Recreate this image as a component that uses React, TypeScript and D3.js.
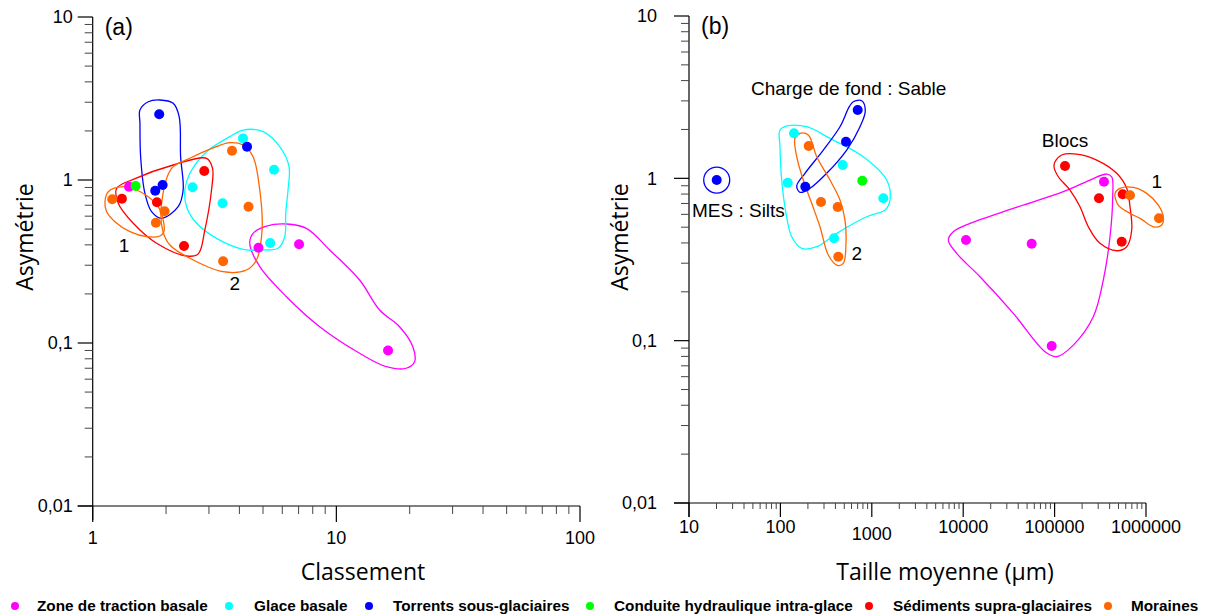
import React from "react";
import * as d3 from "d3";

// ---------- categories / colours ----------
const categories = [
  "Zone de traction basale",
  "Glace basale",
  "Torrents sous-glaciaires",
  "Conduite hydraulique intra-glace",
  "Sédiments supra-glaciaires",
  "Moraines",
];
const colors = ["#ff00ff", "#00ffff", "#0000ff", "#00ff00", "#ff0000", "#ff6600"];

// ---------- panel (a): Classement vs Asymétrie ----------
const aZone = [[1.41, 0.91], [4.79, 0.384], [7.03, 0.403], [16.3, 0.09]];
const aGlace = [[4.14, 1.8], [5.55, 1.157], [2.57, 0.902], [3.41, 0.72], [5.35, 0.411]];
const aTorrents = [[1.875, 2.53], [1.936, 0.932], [1.806, 0.86], [4.3, 1.6]];
const aConduite = [[1.5, 0.919]];
const aSediments = [[2.87, 1.135], [1.318, 0.768], [1.835, 0.73], [2.37, 0.394]];
const aMoraines = [[3.73, 1.51], [1.203, 0.761], [4.36, 0.686], [1.973, 0.643], [1.817, 0.547], [3.43, 0.317]];

// ---------- panel (b): Taille moyenne vs Asymétrie ----------
const bZone = [[347000, 0.953], [10730, 0.4168], [56150, 0.3954], [92970, 0.0926]];
const bGlace = [[140.9, 1.894], [480, 1.208], [120.2, 0.9395], [1336, 0.753], [386, 0.427]];
const bTorrents = [[20.1, 0.976], [701, 2.635], [522, 1.681], [187.3, 0.888]];
const bConduite = [[787, 0.967]];
const bSediments = [[130000, 1.191], [556000, 0.797], [306000, 0.753], [542000, 0.4068]];
const bMoraines = [[204, 1.581], [278, 0.7145], [423.6, 0.6654], [430, 0.3288], [668000, 0.786], [1387000, 0.567]];

// ---------- group outlines (data units) ----------
const hullATorrents = [[1.563, 2.688], [1.69, 3.022], [1.887, 3.096], [2.14, 2.954], [2.264, 2.445], [2.295, 1.39], [2.351, 0.868], [2.243, 0.686], [1.918, 0.582], [1.745, 0.639], [1.638, 0.829], [1.573, 1.39], [1.563, 2.228]];
const hullASediments = [[1.254, 0.889], [1.467, 1.01], [2.14, 1.236], [2.933, 1.359], [3.103, 1.18], [3.074, 0.868], [2.885, 0.493], [2.709, 0.3516], [2.428, 0.3418], [1.829, 0.409], [1.467, 0.5425], [1.273, 0.72]];
const hullAMoraines1 = [[1.123, 0.736], [1.159, 0.848], [1.335, 0.91], [1.515, 0.868], [1.69, 0.79], [1.857, 0.686], [1.947, 0.568], [1.96, 0.4817], [1.887, 0.4533], [1.665, 0.4489], [1.422, 0.4817], [1.234, 0.555], [1.141, 0.639]];
const hullAMoraines2 = [[2.108, 1.18], [2.505, 1.359], [3.222, 1.6], [3.653, 1.694], [4.142, 1.64], [4.552, 1.39], [4.85, 0.868], [4.956, 0.493], [4.7, 0.323], [4.277, 0.2805], [3.429, 0.2738], [2.505, 0.331], [2.074, 0.399], [1.936, 0.493], [1.918, 0.72]];
const hullAGlace = [[2.389, 0.868], [2.505, 1.099], [2.933, 1.491], [3.653, 1.844], [4.142, 2.026], [5.003, 1.979], [5.856, 1.6], [6.394, 1.207], [6.334, 0.868], [6.198, 0.625], [6.14, 0.4489], [5.763, 0.381], [5.003, 0.372], [4.142, 0.3757], [3.222, 0.4388], [2.669, 0.5425], [2.428, 0.686]];
const hullAZone = [[4.412, 0.409], [4.552, 0.471], [5.166, 0.522], [6.24, 0.537], [7.535, 0.5054], [9.387, 0.372], [12.46, 0.2435], [15.05, 0.1594], [18.17, 0.1259], [20.6, 0.0949], [20.94, 0.0768], [19.36, 0.07], [16.03, 0.0716], [12.46, 0.0865], [8.543, 0.1259], [6.24, 0.1923], [4.85, 0.2938]];

const hullBTorrents = [[627.6, 2.965], [775.4, 3.007], [849, 2.609], [743, 2.079], [531, 1.494], [321, 1.074], [210.8, 0.868], [163.9, 0.82], [150.8, 0.897], [185.8, 1.074], [294.7, 1.494], [448.8, 2.079], [567.3, 2.762]];
const hullBGlace = [[99, 1.984], [122, 2.109], [194, 2.079], [349, 1.764], [807, 1.359], [1455, 0.976], [1582, 0.735], [1395, 0.638], [879.6, 0.58], [413, 0.4584], [249.6, 0.379], [171, 0.3705], [133, 0.4367], [115.2, 0.6086], [103.3, 0.976], [99, 1.566]];
const hullBMoraines2 = [[144.4, 1.764], [163.9, 1.894], [202, 1.849], [249.6, 1.359], [349, 0.976], [448.8, 0.735], [509, 0.5534], [522, 0.3977], [487.7, 0.2995], [419.3, 0.2911], [334.2, 0.3369], [271.2, 0.503], [220, 0.7015], [178, 0.976], [150.8, 1.359]];
const hullBZone = [[6871, 0.4168], [7794, 0.4688], [11870, 0.528], [35330, 0.6532], [124500, 0.827], [244000, 0.976], [371500, 1.063], [421500, 1.023], [432200, 0.77], [403800, 0.4367], [341000, 0.2362], [265100, 0.1404], [160200, 0.0939], [105400, 0.0796], [78520, 0.0854], [35330, 0.1473], [15270, 0.2475], [8490, 0.345]];
const hullBSediments = [[101000, 1.266], [119600, 1.392], [174500, 1.411], [288800, 1.296], [478000, 1.074], [615000, 0.868], [668300, 0.668], [697800, 0.4803], [615000, 0.379], [478000, 0.358], [313800, 0.3977], [233800, 0.503], [189700, 0.668], [147400, 0.847], [109800, 1.023], [98500, 1.179]];
const hullBMoraines1 = [[458000, 0.808], [519400, 0.868], [726100, 0.88], [1018000, 0.808], [1363000, 0.6845], [1546000, 0.58], [1485000, 0.5157], [1202000, 0.503], [860000, 0.567], [668300, 0.6086], [497700, 0.6845]];

// ---------- axis tick labels ----------
const yTickValues = [0.01, 0.1, 1, 10];
const yTickLabels = ["0,01", "0,1", "1", "10"];
const aXTickValues = [1, 10, 100];
const aXTickLabels = ["1", "10", "100"];
const bXTickValues = [10, 100, 1000, 10000, 100000, 1000000];
const bXTickLabels = ["10", "100", "1000", "10000", "100000", "1000000"];

// ---------- annotations (data anchors) ----------
const aNotes = [
  { text: "1", x: 1.344, y: 0.399 },
  { text: "2", x: 3.83, y: 0.2335 },
];
const bNotes = [
  { text: "2", x: 683.8, y: 0.345, anchor: "middle" },
  { text: "1", x: 1309000, y: 0.953, anchor: "middle" },
  { text: "Blocs", x: 130000, y: 1.722, anchor: "middle" },
  { text: "Charge de fond : Sable", x: 47.6, y: 3.601, anchor: "start" },
  { text: "MES : Silts", x: 10.78, y: 0.638, anchor: "start" },
];

const legendDotX = [15, 229, 369, 590, 869, 1108];
const legendTextX = [37, 254, 393, 614, 893, 1131];

const SANS = "'Liberation Sans', Arial, sans-serif";
const OPEN = "'Open Sans', sans-serif";

type Pt = number[];

function Panel(props: any) {
  const { x, y, series, hulls, xTicks, xLabels, xLabelDy, tag, xTitle, xTitleX, yTitleX, notes, minorLen, majorLen, labelGap, extra } = props;
  const [x0, x1] = x.range();
  const [yb, yt] = y.range();
  const line = d3
    .line<Pt>()
    .x((d) => x(d[0]))
    .y((d) => y(d[1]))
    .curve(d3.curveCatmullRomClosed.alpha(0.5));
  const xMinor = x.ticks().filter((t: number) => !xTicks.includes(+t.toPrecision(6)));
  const yMinor = y.ticks().filter((t: number) => !yTickValues.includes(+t.toPrecision(6)));
  return (
    <g>
      {/* axes */}
      <line x1={x0} x2={x0} y1={yt} y2={yb + 14} stroke="#000" strokeWidth={1.2} />
      <line x1={x0 - 15} x2={x1} y1={yb} y2={yb} stroke="#000" strokeWidth={1.2} />
      {yTickValues.map((v, i) => (
        <g key={"yt" + i}>
          <line x1={x0 - 15} x2={x0} y1={y(v)} y2={y(v)} stroke="#000" strokeWidth={1.2} />
          <text x={x0 - labelGap} y={y(v)} dy="0.35em" textAnchor="end" fontFamily={SANS} fontSize={18} fill="#000">
            {yTickLabels[i]}
          </text>
        </g>
      ))}
      {yMinor.map((v: number, i: number) => (
        <line key={"ym" + i} x1={x0 - 8} x2={x0} y1={y(v)} y2={y(v)} stroke="#444" strokeWidth={1} />
      ))}
      {xTicks.map((v: number, i: number) => (
        <g key={"xt" + i}>
          <line x1={x(v)} x2={x(v)} y1={yb} y2={yb + majorLen} stroke="#000" strokeWidth={1.2} />
          <text x={x(v)} y={yb + xLabelDy[i]} textAnchor="middle" fontFamily={SANS} fontSize={18} fill="#000">
            {xLabels[i]}
          </text>
        </g>
      ))}
      {xMinor.map((v: number, i: number) => (
        <line key={"xm" + i} x1={x(v)} x2={x(v)} y1={yb} y2={yb + minorLen} stroke="#444" strokeWidth={1} />
      ))}
      {/* titles */}
      <text x={xTitleX} y={580} textAnchor="middle" fontFamily={OPEN} fontSize={23} fill="#000">
        {xTitle}
      </text>
      <text transform={`translate(${yTitleX},237) rotate(-90)`} textAnchor="middle" fontFamily={OPEN} fontSize={23} fill="#000">
        Asymétrie
      </text>
      <text x={x0 + 12} y={yt + 18} fontFamily={SANS} fontSize={23} fill="#000">
        {tag}
      </text>
      {/* group outlines */}
      {hulls.map((h: any, i: number) => (
        <path key={"h" + i} d={line(h.pts) || ""} fill="none" stroke={colors[h.c]} strokeWidth={1.3} />
      ))}
      {extra}
      {/* points */}
      {series.map((s: Pt[], ci: number) =>
        s.map((d, j) => <circle key={ci + "-" + j} cx={x(d[0])} cy={y(d[1])} r={5} fill={colors[ci]} />)
      )}
      {notes.map((n: any, i: number) => (
        <text key={"n" + i} x={x(n.x)} y={y(n.y)} dy="0.35em" textAnchor={n.anchor || "middle"} fontFamily={SANS} fontSize={19} fill="#000">
          {n.text}
        </text>
      ))}
    </g>
  );
}

export default function App() {
  const xA = d3.scaleLog().domain([1, 100]).range([92.7, 580]);
  const yA = d3.scaleLog().domain([0.01, 10]).range([506, 17]);
  const xB = d3.scaleLog().domain([10, 1e6]).range([689, 1146]);
  const yB = d3.scaleLog().domain([0.01, 10]).range([503, 16]);

  const hullsA = [
    { pts: hullAZone, c: 0 },
    { pts: hullAGlace, c: 1 },
    { pts: hullATorrents, c: 2 },
    { pts: hullASediments, c: 4 },
    { pts: hullAMoraines1, c: 5 },
    { pts: hullAMoraines2, c: 5 },
  ];
  const hullsB = [
    { pts: hullBZone, c: 0 },
    { pts: hullBGlace, c: 1 },
    { pts: hullBTorrents, c: 2 },
    { pts: hullBSediments, c: 4 },
    { pts: hullBMoraines1, c: 5 },
    { pts: hullBMoraines2, c: 5 },
  ];
  const silts = bTorrents[0];

  return (
    <svg width={1228} height={616} style={{ position: "absolute", left: 0, top: 0, background: "#fff" }}>
      <rect width={1228} height={616} fill="#fff" />
      <Panel
        x={xA}
        y={yA}
        series={[aZone, aGlace, aTorrents, aConduite, aSediments, aMoraines]}
        hulls={hullsA}
        xTicks={aXTickValues}
        xLabels={aXTickLabels}
        xLabelDy={[38, 38, 38]}
        tag="(a)"
        xTitle="Classement"
        xTitleX={363}
        yTitleX={33}
        notes={aNotes}
        minorLen={8}
        majorLen={16}
        labelGap={20}
      />
      <Panel
        x={xB}
        y={yB}
        series={[bZone, bGlace, bTorrents, bConduite, bSediments, bMoraines]}
        hulls={hullsB}
        xTicks={bXTickValues}
        xLabels={bXTickLabels}
        xLabelDy={[30, 30, 37, 30, 30, 30]}
        tag="(b)"
        xTitle="Taille moyenne (µm)"
        xTitleX={945}
        yTitleX={628}
        notes={bNotes}
        minorLen={6}
        majorLen={14}
        labelGap={32}
        extra={<circle cx={xB(silts[0])} cy={yB(silts[1])} r={13} fill="none" stroke={colors[2]} strokeWidth={1.3} />}
      />
      {/* legend */}
      {categories.map((c, i) => (
        <g key={"lg" + i}>
          <circle cx={legendDotX[i]} cy={606} r={4} fill={colors[i]} />
          <text x={legendTextX[i]} y={606} dy="0.35em" fontFamily={SANS} fontWeight="bold" fontSize={15.3} fill="#000">
            {c}
          </text>
        </g>
      ))}
    </svg>
  );
}
